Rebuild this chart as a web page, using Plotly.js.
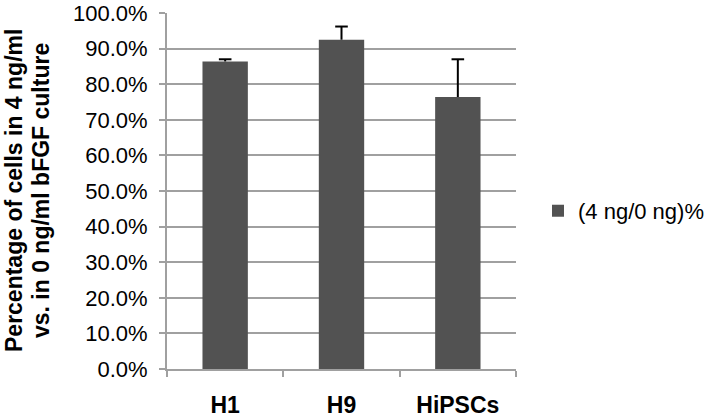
<!DOCTYPE html>
<html>
<head>
<meta charset="utf-8">
<script src="https://cdn.plot.ly/plotly-3.0.1.min.js"></script>
<style>html,body{margin:0;padding:0;background:#fff;}#chart{width:712px;height:419px;}</style>
</head>
<body>
<div id="chart"></div>
<script>
const categories = ["H1", "H9", "HiPSCs"];
const ratioValues = [0.864, 0.925, 0.764];
const ratioErrors = [0.006, 0.037, 0.106];
const seriesName = "(4 ng/0 ng)%";
const yTickValues = [0, 0.1, 0.2, 0.3, 0.4, 0.5, 0.6, 0.7, 0.8, 0.9, 1.0];
const yTitleLines = ["Percentage of cells in 4 ng/ml", "vs. in 0 ng/ml bFGF culture"];

const barTrace = {
  type: "bar",
  x: categories,
  y: ratioValues,
  name: seriesName,
  showlegend: true,
  marker: { color: "#525252" },
  error_y: {
    type: "data",
    array: ratioErrors,
    symmetric: false,
    arrayminus: ratioErrors.map(() => 0),
    color: "#000000",
    thickness: 2,
    width: 0
  }
};

// caps of the (plus-only) error bars
const capTrace = {
  type: "scatter",
  mode: "markers",
  x: categories,
  y: ratioValues.map((v, i) => v + ratioErrors[i]),
  showlegend: false,
  hoverinfo: "skip",
  marker: { symbol: "line-ew", size: 9, line: { color: "#000000", width: 2 } }
};

const titleLinePx = [14, 41];

const layout = {
  width: 712,
  height: 419,
  margin: { l: 167, r: 196, t: 13, b: 50, autoexpand: false },
  paper_bgcolor: "#ffffff",
  plot_bgcolor: "#ffffff",
  font: { family: "Liberation Sans, Arial, sans-serif", color: "#000000" },
  bargap: 0.61,
  showlegend: true,
  legend: {
    x: 1.063, xanchor: "left",
    y: 0.444, yanchor: "middle",
    font: { size: 22, color: "#000" },
    bgcolor: "rgba(0,0,0,0)",
    borderwidth: 0,
    itemwidth: 30
  },
  xaxis: {
    type: "category",
    showline: true,
    linecolor: "#a0a0a0",
    linewidth: 2,
    ticks: "outside",
    tickson: "boundaries",
    ticklen: 6,
    tickwidth: 2,
    tickcolor: "#a0a0a0",
    ticklabelstandoff: 14,
    tickfont: { size: 23, family: "Liberation Sans, Arial, sans-serif", weight: "bold", color: "#000" },
    showgrid: false,
    automargin: false,
    fixedrange: true
  },
  yaxis: {
    range: [0, 1.0],
    tickvals: yTickValues,
    tickformat: ".1%",
    showline: true,
    linecolor: "#a0a0a0",
    linewidth: 2,
    ticks: "outside",
    ticklen: 6,
    tickwidth: 2,
    tickcolor: "#a0a0a0",
    ticklabelstandoff: 7,
    showgrid: true,
    gridcolor: "#a0a0a0",
    gridwidth: 2,
    zeroline: false,
    tickfont: { size: 22, color: "#000" },
    automargin: false,
    fixedrange: true
  },
  annotations: yTitleLines.map((line, i) => ({
    text: "<b>" + line + "</b>",
    xref: "paper", yref: "paper",
    x: (titleLinePx[i] - 167) / 349,
    y: 0.5,
    xanchor: "center", yanchor: "middle",
    textangle: -90,
    showarrow: false,
    font: { size: 23, color: "#000" }
  }))
};

Plotly.newPlot("chart", [barTrace, capTrace], layout, { staticPlot: true, displayModeBar: false });
</script>
</body>
</html>
